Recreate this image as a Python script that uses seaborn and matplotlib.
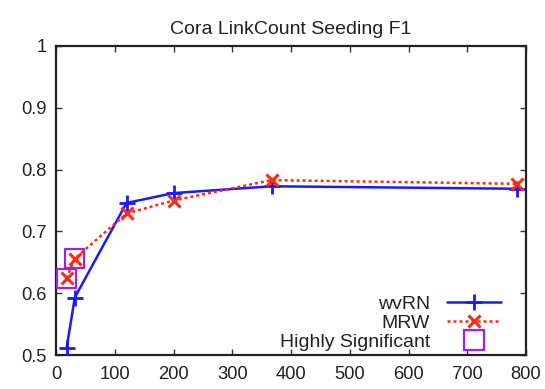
import matplotlib
matplotlib.use("Agg")
import matplotlib.pyplot as plt
import seaborn as sns
import pandas as pd
from matplotlib.lines import Line2D

# Data
x_vals = [18, 32, 120, 200, 367, 785]
wvrn = [0.511, 0.593, 0.746, 0.762, 0.773, 0.769]
mrw = [0.624, 0.656, 0.729, 0.750, 0.783, 0.777]
sig_x = [18, 32]
sig_y = [0.624, 0.656]

title = "Cora LinkCount Seeding F1"
x_ticks = [0, 100, 200, 300, 400, 500, 600, 700, 800]
y_ticks = [0.5, 0.6, 0.7, 0.8, 0.9, 1.0]
y_labels = ["0.5", "0.6", "0.7", "0.8", "0.9", "1"]

sns.set_style("ticks")
plt.rcParams["font.family"] = ["Liberation Sans", "DejaVu Sans"]
FS_TICK = 13.2
FS_TEXT = 14.0

df = pd.DataFrame({"x": x_vals, "wvRN": wvrn, "MRW": mrw})
sig = pd.DataFrame({"x": sig_x, "y": sig_y})

fig = plt.figure(figsize=(5.45, 3.89), dpi=100)
ax = fig.add_axes([56 / 545, 1 - 355 / 389, 470 / 545, 309 / 389])

BLUE = "#1a1aff"
RED = "#ff2a10"
PURPLE = "#a020f0"
TXT = "#222222"

sns.lineplot(data=df, x="x", y="wvRN", ax=ax, color=BLUE, lw=1.8,
             marker="+", markersize=11, markeredgewidth=2, markeredgecolor=BLUE,
             zorder=3)
sns.lineplot(data=df, x="x", y="MRW", ax=ax, color=RED, lw=1.8,
             linestyle=(0, (1.2, 1.2)), marker="x", markersize=9,
             markeredgewidth=2.2, markeredgecolor=RED, zorder=4)
sns.scatterplot(data=sig, x="x", y="y", ax=ax, marker="s", s=190,
                facecolor="none", edgecolor=PURPLE, linewidth=1.6, zorder=5)

ax.set_xlim(0, 800)
ax.set_ylim(0.5, 1.0)
ax.set_xticks(x_ticks)
ax.set_xticklabels([str(t) for t in x_ticks], fontsize=FS_TICK, color=TXT)
ax.set_yticks(y_ticks)
ax.set_yticklabels(y_labels, fontsize=FS_TICK, color=TXT)
ax.set_xlabel("")
ax.set_ylabel("")
ax.tick_params(direction="in", length=4, width=1, top=True, right=True,
               color="#333333")
ax.tick_params(axis="y", pad=6.5)
ax.tick_params(axis="x", pad=8)
for sp in ax.spines.values():
    sp.set_linewidth(1.6)
    sp.set_color(TXT)

ax.set_title(title, fontsize=FS_TEXT, pad=9, color=TXT)

handles = [
    Line2D([], [], color=BLUE, lw=1.8, marker="+", markersize=11, markeredgewidth=2),
    Line2D([], [], color=RED, lw=1.8, linestyle=(0, (1.2, 1.2)), marker="x",
           markersize=9, markeredgewidth=2.2),
    Line2D([], [], color=PURPLE, lw=0, marker="s", markersize=14,
           markerfacecolor="none", markeredgewidth=1.6),
]
labels = ["wvRN", "MRW", "Highly Significant"]
leg = ax.legend(handles, labels, loc="lower right", markerfirst=False,
                frameon=False, fontsize=FS_TEXT, handlelength=2.8,
                handletextpad=0.85, labelspacing=0.08, borderaxespad=0.0,
                borderpad=0.0, bbox_to_anchor=(0.947, 0.013))
for t in leg.get_texts():
    t.set_color(TXT)

fig.savefig("out.png", dpi=100)
